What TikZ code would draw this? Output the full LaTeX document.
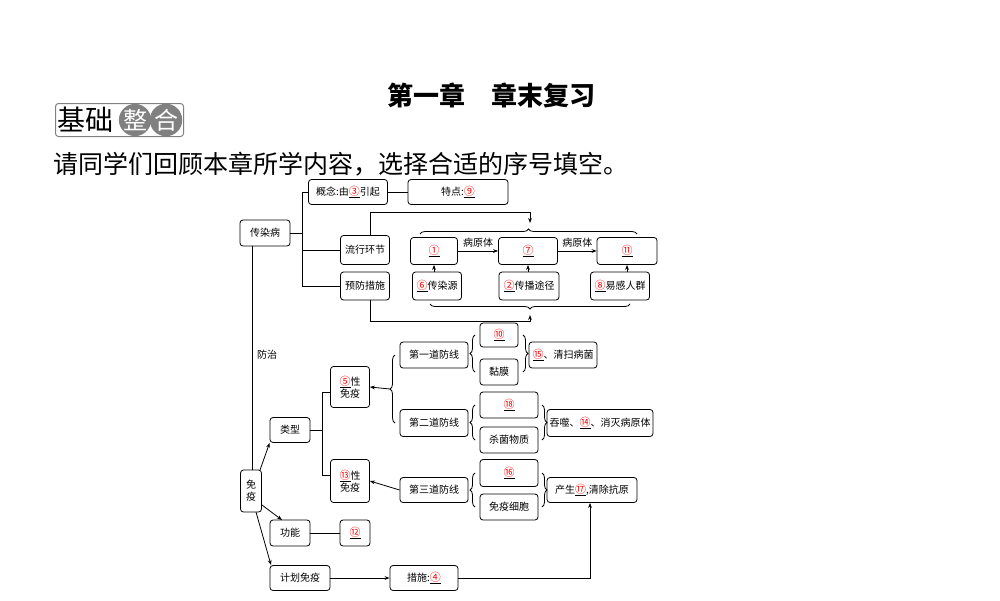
\documentclass[tikz,border=0pt]{standalone}
\usepackage{fontspec}
\setmainfont{Noto Sans CJK SC}
\usetikzlibrary{decorations.pathreplacing,arrows.meta}
\newcommand{\bl}[1]{\underline{\textcolor{red}{\fontsize{11}{11}\selectfont #1}}}
\begin{document}
\begin{tikzpicture}[x=1pt,y=-1pt,
 bx/.style={draw,rounded corners=3pt,line width=0.8pt,minimum height=26pt,inner sep=1pt,font=\fontsize{10}{12}\selectfont,align=center},
 ln/.style={line width=0.8pt},
 ar/.style={ln,-{Stealth[length=5pt]}},
 br/.style={ln,decorate,decoration={brace,amplitude=5pt}}]
\useasboundingbox (0,0) rectangle (1000,600);
\node[font=\fontsize{26}{28}\selectfont\bfseries] (title) at (491,95) {第一章\quad 章末复习};
\node[draw=gray,rounded corners=3pt,line width=1pt,minimum width=128pt,minimum height=33pt,anchor=west,inner sep=0pt] (badge) at (55,120) {};
\node[anchor=west,font=\fontsize{28}{30}\selectfont,inner sep=0pt] (bt) at (57,120) {基础};
\node[circle,fill=gray,minimum size=31pt,inner sep=0pt,text=white,font=\fontsize{24}{26}\selectfont] (z1) at (135,120) {整};
\node[circle,fill=gray,minimum size=31pt,inner sep=0pt,text=white,font=\fontsize{24}{26}\selectfont] (z2) at (166,120) {合};
\node[anchor=west,font=\fontsize{25}{27}\selectfont,inner sep=0pt] (instr) at (53,164) {请同学们回顾本章所学内容，选择合适的序号填空。};

\node[bx,minimum width=50pt] (crb) at (265,233) {传染病};
\node[bx,minimum width=79pt,minimum height=25pt] (gn) at (348,192) {概念:由\bl{③}引起};
\node[bx,minimum width=100pt,minimum height=25pt] (td) at (458,192) {特点:\bl{⑨}};
\node[bx,minimum width=49pt,minimum height=29pt] (lx) at (365,250) {流行环节};
\node[bx,minimum width=49pt,minimum height=28pt] (yf) at (365,286) {预防措施};
\node[bx,minimum width=47pt,minimum height=27pt] (n1) at (434,251) {\bl{①}};
\node[bx,minimum width=59pt,minimum height=27pt] (n7) at (528,251) {\bl{⑦}};
\node[bx,minimum width=60pt,minimum height=27pt] (n11) at (627,251) {\bl{⑪}};
\node[bx,minimum width=49pt,minimum height=28pt] (n6) at (437,286) {\bl{⑥}传染源};
\node[bx,minimum width=60pt,minimum height=28pt] (n2) at (529,286) {\bl{②}传播途径};
\node[bx,minimum width=59pt,minimum height=28pt] (n8) at (620,286) {\bl{⑧}易感人群};
\draw[ln] (crb.east) -- (302,233);
\draw[ln] (302,192) -- (302,286);
\draw[ln] (302,192) -- (gn.west);
\draw[ln] (302,250) -- (lx.west);
\draw[ln] (302,286) -- (yf.west);
\draw[ln] (gn.east) -- (td.west);
\draw[ar] (n1.east) -- node[above,font=\fontsize{10}{12}\selectfont] {病原体} (n7.west);
\draw[ar] (n7.east) -- node[above,font=\fontsize{10}{12}\selectfont] {病原体} (n11.west);
\draw[ar] (n6.north -| n1) -- (n1.south);
\draw[ar] (n2.north -| n7) -- (n7.south);
\draw[ar] (n8.north -| n11) -- (n11.south);
\draw[br] (420,234) -- (637,234);
\draw[br] (630,304) -- (430,304);
\coordinate (tt) at (530,223);
\coordinate (bb) at (530,315);
\draw[ar] (lx.north -| 370,0) |- (530,212) -- (tt);
\draw[ar] (yf.south -| 370,0) |- (530,321) -- (bb);

\draw[ln] (crb.south -| 252,0) -- (252,470);
\node[font=\fontsize{10}{12}\selectfont] (fz) at (267,355) {防治};
\node[bx,minimum width=21pt,minimum height=42pt,inner sep=1pt] (my) at (251,491) {免\\疫};
\node[bx,minimum width=40pt,minimum height=25pt] (lxg) at (290,430) {类型};
\node[bx,minimum width=39pt,minimum height=41pt] (n5) at (350,387) {\bl{⑤}性\\免疫};
\node[bx,minimum width=39pt,minimum height=43pt] (n13) at (350,481) {\bl{⑬}性\\免疫};
\node[bx,minimum width=68pt,minimum height=26pt] (d1) at (434,355) {第一道防线};
\node[bx,minimum width=68pt,minimum height=27pt] (d2) at (434,423) {第二道防线};
\node[bx,minimum width=68pt,minimum height=25pt] (d3) at (434,490) {第三道防线};
\node[bx,minimum width=38pt,minimum height=24pt] (n10) at (499,335) {\bl{⑩}};
\node[bx,minimum width=38pt,minimum height=26pt] (nm) at (499,372) {黏膜};
\node[bx,minimum width=68pt,minimum height=26pt] (n15) at (563,355) {\bl{⑮}、清扫病菌};
\node[bx,minimum width=58pt,minimum height=26pt] (n18) at (509,405) {\bl{⑱}};
\node[bx,minimum width=58pt,minimum height=26pt] (sj) at (509,440) {杀菌物质};
\node[bx,minimum width=106pt,minimum height=27pt] (n14) at (600,423) {吞噬、\bl{⑭}、消灭病原体};
\node[bx,minimum width=58pt,minimum height=27pt] (n16) at (509,473) {\bl{⑯}};
\node[bx,minimum width=58pt,minimum height=26pt] (myxb) at (509,507) {免疫细胞};
\node[bx,minimum width=90pt,minimum height=25pt] (n17) at (592,490) {产生\bl{⑰},清除抗原};
\node[bx,minimum width=40pt,minimum height=26pt] (gnn) at (290,533) {功能};
\node[bx,minimum width=30pt,minimum height=26pt] (n12) at (355,533) {\bl{⑫}};
\node[bx,minimum width=60pt,minimum height=25pt] (jh) at (300,578) {计划免疫};
\node[bx,minimum width=68pt,minimum height=25pt] (cs) at (424,578) {措施:\bl{④}};

\draw[ar] (260,470) -- (lxg.south west);
\draw[ar] (262,505) -- (282,520);
\draw[ar] (256,512) -- (271,565);
\draw[ln] (lxg.east) -- (322,430);
\draw[ln] (322,392) -- (322,475);
\draw[ln] (322,392) -- (331,392);
\draw[ln] (322,475) -- (331,475);
\draw[br] (395,423) -- (395,355);
\draw[ar] (390,389) -- (n5.east);
\draw[br] (475,372) -- (475,335);
\draw[br] (523,335) -- (523,372);
\draw[br] (475,440) -- (475,405);
\draw[br] (542,405) -- (542,440);
\draw[br] (475,507) -- (475,473);
\draw[br] (542,473) -- (542,507);
\draw[ar] (d3.west) -- (n13.east);
\draw[ln] (gnn.east) -- (n12.west);
\draw[ar] (jh.east) -- (cs.west);
\draw[ar] (cs.east) -| (n17.south -| 590,0);
\end{tikzpicture}
\end{document}
